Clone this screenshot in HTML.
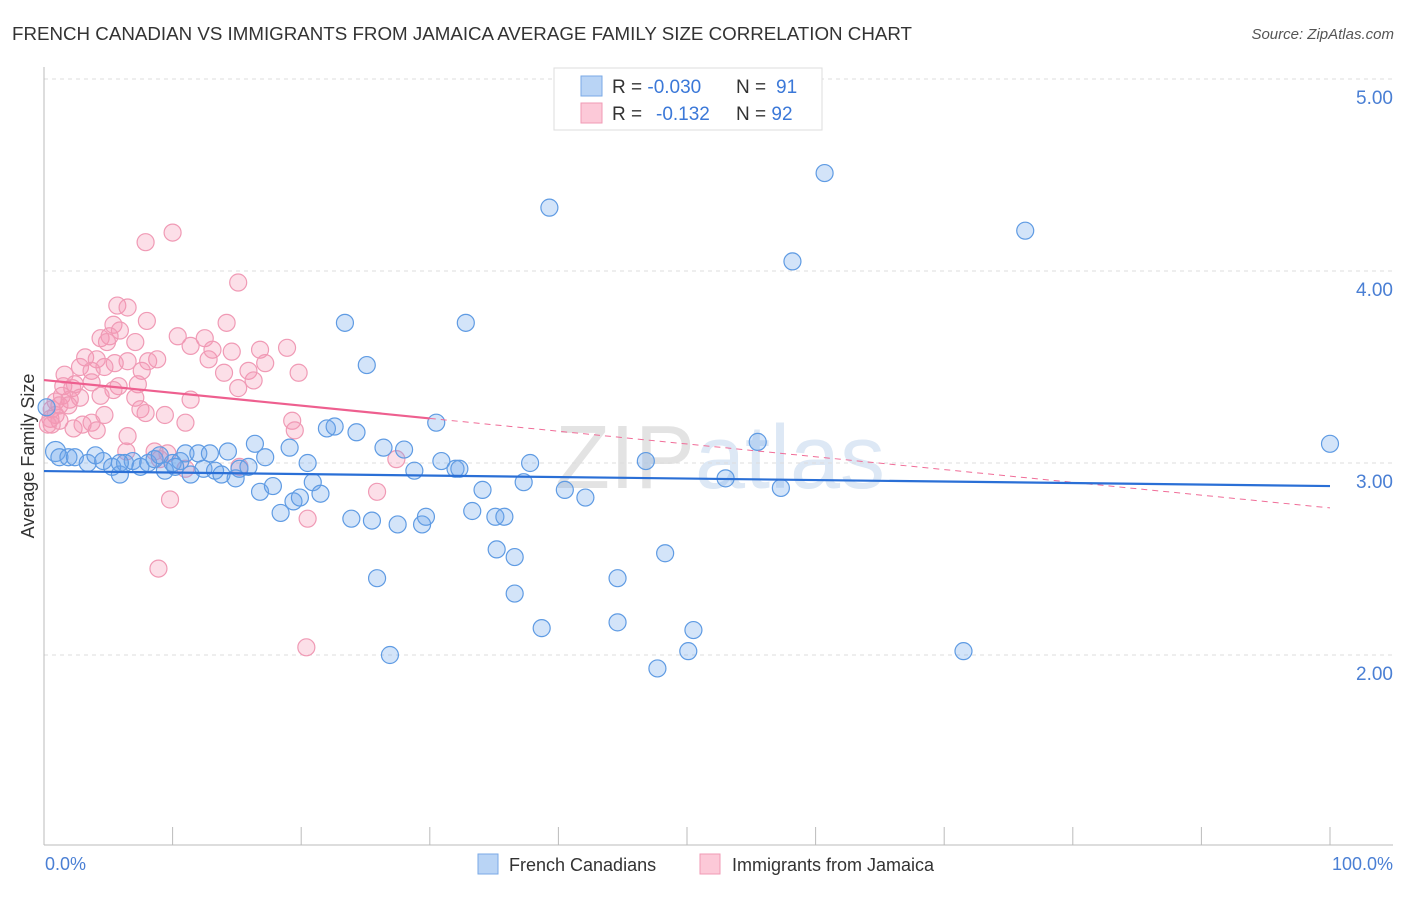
<!DOCTYPE html>
<html><head><meta charset="utf-8">
<style>
html,body{margin:0;padding:0;background:#fff;}
body{width:1406px;height:892px;overflow:hidden;font-family:"Liberation Sans",sans-serif;}
svg text{font-family:"Liberation Sans",sans-serif;}
</style></head>
<body>
<svg id="chart" width="1406" height="892" xmlns="http://www.w3.org/2000/svg">
<text x="12" y="40" font-size="18" fill="#333" textLength="900" lengthAdjust="spacingAndGlyphs">FRENCH CANADIAN VS IMMIGRANTS FROM JAMAICA AVERAGE FAMILY SIZE CORRELATION CHART</text>
<text x="1394" y="39" font-size="15" fill="#555" font-style="italic" text-anchor="end">Source: ZipAtlas.com</text>
<text x="720" y="488" font-size="90" fill="#e8e8e8" text-anchor="middle" font-family="Liberation Serif"><tspan fill="#e3e3e3">ZIP</tspan><tspan fill="#dde8f5" font-family="Liberation Sans">atlas</tspan></text>
<g id="grid"></g>
<g id="axes"></g>
<g id="pts"></g>
<g id="trends"></g>
<text transform="translate(34,456) rotate(-90)" font-size="18" fill="#333" text-anchor="middle">Average Family Size</text>
<text x="45" y="870" font-size="18" fill="#4a7fd4">0.0%</text>
<text x="1393" y="870" font-size="18" fill="#4a7fd4" text-anchor="end">100.0%</text>
<g>
<rect x="478" y="854" width="20" height="20" fill="#b9d4f5" stroke="#7aa9e6"/>
<text x="509" y="871" font-size="18" fill="#333">French Canadians</text>
<rect x="700" y="854" width="20" height="20" fill="#fcc9d8" stroke="#f09ab5"/>
<text x="732" y="871" font-size="18" fill="#333">Immigrants from Jamaica</text>
</g>
<g>
<rect x="554" y="68" width="268" height="62" fill="#fff" stroke="#ddd"/>
<rect x="581" y="76" width="21" height="20" fill="#b9d4f5" stroke="#7aa9e6"/>
<rect x="581" y="103" width="21" height="20" fill="#fcc9d8" stroke="#f09ab5"/>
<text x="612" y="93" font-size="19" fill="#333">R = <tspan fill="#3b78d8">-0.030</tspan><tspan x="736">N = </tspan><tspan fill="#3b78d8" x="776">91</tspan></text>
<text x="612" y="120" font-size="19" fill="#333">R = <tspan fill="#3b78d8" x="656">-0.132</tspan><tspan x="736">N = </tspan><tspan fill="#3b78d8">92</tspan></text>
</g>
</svg>
<script>
const blueX=[0.9,1.2,1.9,2.4,3.4,4.0,4.6,5.3,5.9,6.3,6.9,7.5,8.1,8.6,9.0,9.4,10.0,10.6,11.0,11.4,12.0,12.4,12.9,13.3,13.8,14.3,14.9,15.2,15.9,16.4,16.8,17.2,17.8,18.4,19.1,19.4,19.9,20.5,20.9,21.5,22.0,22.6,23.4,23.9,24.3,25.1,25.5,25.9,26.4,26.9,27.5,28.0,28.8,29.4,29.7,30.5,30.9,32.0,32.3,32.8,33.3,34.1,35.1,35.2,35.8,36.6,36.6,37.3,37.8,38.7,39.3,40.5,42.1,44.6,44.6,46.8,47.7,48.3,50.1,50.5,53.0,55.5,57.3,58.2,60.7,71.5,76.3,100,0.2,10.2,5.9];
const blueY=[3.06,3.03,3.03,3.03,3.00,3.04,3.01,2.98,2.94,3.00,3.01,2.98,3.00,3.02,3.04,2.96,3.00,3.01,3.05,2.94,3.05,2.97,3.05,2.96,2.94,3.06,2.92,2.97,2.98,3.10,2.85,3.03,2.88,2.74,3.08,2.80,2.82,3.00,2.90,2.84,3.18,3.19,3.73,2.71,3.16,3.51,2.70,2.40,3.08,2.00,2.68,3.07,2.96,2.68,2.72,3.21,3.01,2.97,2.97,3.73,2.75,2.86,2.72,2.55,2.72,2.51,2.32,2.90,3.00,2.14,4.33,2.86,2.82,2.40,2.17,3.01,1.93,2.53,2.02,2.13,2.92,3.11,2.87,4.05,4.51,2.02,4.21,3.10,3.29,2.98,3.00];
const pinkX=[7.9,10.0,15.1,5.7,6.5,8.0,14.2,5.4,5.9,10.4,12.5,4.4,5.1,7.1,8.8,12.8,16.8,18.9,14.6,4.9,3.2,4.1,6.5,5.5,8.1,7.6,11.4,13.1,14.0,15.9,19.8,17.2,16.3,15.1,2.8,3.7,4.7,5.8,7.3,2.2,1.5,1.4,2.4,3.7,2.0,2.8,0.9,1.2,1.9,0.6,0.5,0.9,1.2,0.6,0.3,4.7,7.1,7.5,9.4,11.4,7.9,2.3,3.7,3.0,11.0,19.3,19.5,6.4,8.6,9.6,9.0,11.0,15.2,27.4,25.9,20.5,9.8,8.9,20.4,6.5,4.1,5.4,1.6,4.4];
const pinkY=[4.15,4.20,3.94,3.82,3.81,3.74,3.73,3.72,3.69,3.66,3.65,3.65,3.66,3.63,3.54,3.54,3.59,3.60,3.58,3.63,3.55,3.54,3.53,3.52,3.53,3.48,3.61,3.59,3.47,3.48,3.47,3.52,3.43,3.39,3.50,3.48,3.50,3.40,3.41,3.39,3.40,3.35,3.41,3.42,3.33,3.34,3.32,3.30,3.30,3.28,3.23,3.25,3.22,3.20,3.20,3.25,3.34,3.28,3.25,3.33,3.26,3.18,3.21,3.20,3.21,3.22,3.17,3.06,3.06,3.05,3.02,2.97,2.98,3.02,2.85,2.71,2.81,2.45,2.04,3.14,3.17,3.38,3.46,3.35];
const yTicks=[2,3,4,5];
const yTickLabels=["2.00","3.00","4.00","5.00"];
const xTicks=[0,10,20,30,40,50,60,70,80,90,100];
const blueTrend=[2.958,2.880];
const pinkTrend=[3.432,2.766];
const pinkSolidEnd=30;

const NS="http://www.w3.org/2000/svg";
const X=v=>44+v*12.86;
const Y=v=>79+(5-v)*192;
function mk(tag,attrs,parent){const e=document.createElementNS(NS,tag);for(const k in attrs)e.setAttribute(k,attrs[k]);parent.appendChild(e);return e;}
const grid=document.getElementById('grid'),axes=document.getElementById('axes'),pts=document.getElementById('pts'),tr=document.getElementById('trends');
yTicks.forEach((t,i)=>{
  const l=mk('line',{x1:44,x2:1393,y1:Y(t),y2:Y(t),stroke:'#ddd','stroke-dasharray':'4,4'},grid);
  
  
  const tx=mk('text',{x:1393,y:Y(t)+25,'font-size':19,fill:'#4a7fd4','text-anchor':'end'},axes);
  tx.textContent=yTickLabels[i];
  
  
});
const ax=mk('line',{x1:44,x2:44,y1:67,y2:845,stroke:'#bbb'},axes);


const bx=mk('line',{x1:44,x2:1393,y1:845,y2:845,stroke:'#bbb'},axes);


xTicks.forEach(t=>{
  const l=mk('line',{x1:X(t),x2:X(t),y1:827,y2:845,stroke:'#bbb'},axes);
  
  
});
pinkX.forEach((v,i)=>{
  const c=mk('circle',{cx:X(v),cy:Y(pinkY[i]),r:8.5,fill:'rgba(245,150,180,0.3)',stroke:'#f09ab5','stroke-width':1.2},pts);
  
  
});
blueX.forEach((v,i)=>{
  const c=mk('circle',{cx:X(v),cy:Y(blueY[i]),r:i===0?10:8.5,fill:'rgba(110,165,235,0.3)',stroke:'#5f9be3','stroke-width':1.2},pts);
  
  
});
const pAt=x=>pinkTrend[0]+(pinkTrend[1]-pinkTrend[0])*x/100;
const pd=mk('line',{x1:X(pinkSolidEnd),y1:Y(pAt(pinkSolidEnd)),x2:X(100),y2:Y(pinkTrend[1]),stroke:'#f06d98','stroke-width':1,'stroke-dasharray':'6,5'},tr);


const ps=mk('line',{x1:X(0),y1:Y(pinkTrend[0]),x2:X(pinkSolidEnd),y2:Y(pAt(pinkSolidEnd)),stroke:'#ee5f8f','stroke-width':2.2},tr);


const bl=mk('line',{x1:X(0),y1:Y(blueTrend[0]),x2:X(100),y2:Y(blueTrend[1]),stroke:'#2a6fd6','stroke-width':2.2},tr);


</script>
</body></html>
